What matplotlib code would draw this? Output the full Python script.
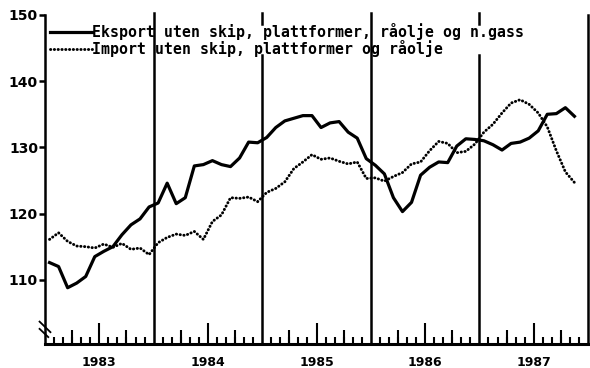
import numpy as np
import matplotlib
matplotlib.use('Agg')
import matplotlib.pyplot as plt
from matplotlib.transforms import blended_transform_factory


# monthly index values, Jan 1983 - Nov 1987
first_year = 1983
years = [1983, 1984, 1985, 1986, 1987]
export = [112.6, 112.0, 108.8, 109.5, 110.5, 113.5, 114.3, 115.0, 116.8, 118.3, 119.2, 121.0,
          121.6, 124.6, 121.5, 122.4, 127.2, 127.4, 128.0, 127.4, 127.1, 128.4, 130.8, 130.7,
          131.5, 133.0, 134.0, 134.4, 134.8, 134.8, 133.0, 133.7, 133.9, 132.3, 131.4, 128.3,
          127.3, 126.0, 122.4, 120.3, 121.7, 125.8, 127.0, 127.8, 127.7, 130.2, 131.3, 131.2,
          131.0, 130.4, 129.6, 130.6, 130.8, 131.4, 132.5, 135.0, 135.1, 136.0, 134.7]
imports = [116.1, 117.1, 115.8, 115.1, 115.0, 114.8, 115.4, 114.9, 115.5, 114.6, 114.8, 113.8,
           115.6, 116.4, 116.9, 116.7, 117.3, 116.1, 118.8, 119.8, 122.4, 122.3, 122.5, 121.8,
           123.2, 123.8, 124.8, 126.8, 127.8, 128.9, 128.2, 128.4, 127.9, 127.5, 127.8, 125.3,
           125.4, 124.9, 125.6, 126.2, 127.5, 127.8, 129.5, 130.9, 130.6, 129.2, 129.4, 130.5,
           132.3, 133.5, 135.2, 136.7, 137.2, 136.5, 135.2, 133.1, 129.5, 126.3, 124.7]
export_label = 'Eksport uten skip, plattformer, råolje og n.gass'
import_label = 'Import uten skip, plattformer og råolje'
yticks = [110, 120, 130, 140, 150]

months = first_year + (np.arange(len(export)) + 0.5) / 12

fig = plt.figure(figsize=(5.9, 3.68), dpi=100)
ax = fig.add_axes([45 / 590, 1 - 344 / 368, 543 / 590, 329 / 368])
ax.set_xlim(first_year, years[-1] + 1)
ax.set_ylim(100.3, 150)

# year separators; two of them are broken behind the legend text
for yr in years[1:]:
    if yr in (1985, 1987):
        ax.axvline(yr, ymax=(144.0 - 100.3) / 49.7, color='black', lw=1.8, zorder=1)
        ax.axvline(yr, ymin=(148.6 - 100.3) / 49.7, ymax=1.005, color='black',
                   lw=1.8, zorder=1, clip_on=False)
    else:
        ax.axvline(yr, ymax=1.005, color='black', lw=1.8, zorder=1, clip_on=False)

ax.plot(months, export, color='black', lw=2.3, label=export_label, zorder=3)
ax.plot(months, imports, color='black', lw=2.1, linestyle=(0, (0.1, 1.2)),
        dash_capstyle='round', label=import_label, zorder=3)

ax.legend(loc='upper left', bbox_to_anchor=(5 / 543, 0.976), frameon=False,
          borderpad=0, borderaxespad=0, handlelength=2.85, handletextpad=0,
          labelspacing=0.0,
          prop={'family': 'DejaVu Sans Mono', 'weight': 'bold', 'size': 10.7})

for side in ['left', 'right']:
    ax.spines[side].set_linewidth(1.8)
ax.spines['bottom'].set_linewidth(2.2)
ax.spines['top'].set_visible(False)

# y axis
ax.set_yticks(yticks)
ax.set_yticklabels([str(v) for v in yticks], fontweight='bold', fontsize=10)
ax.tick_params(axis='y', direction='out', length=4, width=1.8, pad=1)

# x axis: year label at mid-year, monthly ticks
ax.set_xticks([y + 0.5 for y in years])
ax.set_xticklabels([str(y) for y in years], fontweight='bold', fontsize=9)
ax.tick_params(axis='x', which='major', direction='in', length=15, width=1.5, pad=9)
ax.set_xticks([y + m / 12 for y in years for m in range(1, 12)], minor=True)
ax.tick_params(axis='x', which='minor', direction='in', length=5, width=1.5)

# quarter ticks
sec = ax.secondary_xaxis('bottom')
sec.set_xticks([y + m / 12 for y in years for m in (3, 9)])
sec.set_xticklabels([])
sec.tick_params(direction='in', length=10, width=1.5)
sec.spines['bottom'].set_visible(False)

# axis break marks on the lower left
trans = blended_transform_factory(ax.transAxes, ax.transAxes)
for x0, y0, x1, y1 in [(-0.01, 0.068, 0.01, 0.036), (-0.01, 0.046, 0.006, 0.021)]:
    ax.plot([x0, x1], [y0, y1], color='black', lw=1.3,
            transform=trans, clip_on=False)

fig.savefig('out.png', dpi=100)
